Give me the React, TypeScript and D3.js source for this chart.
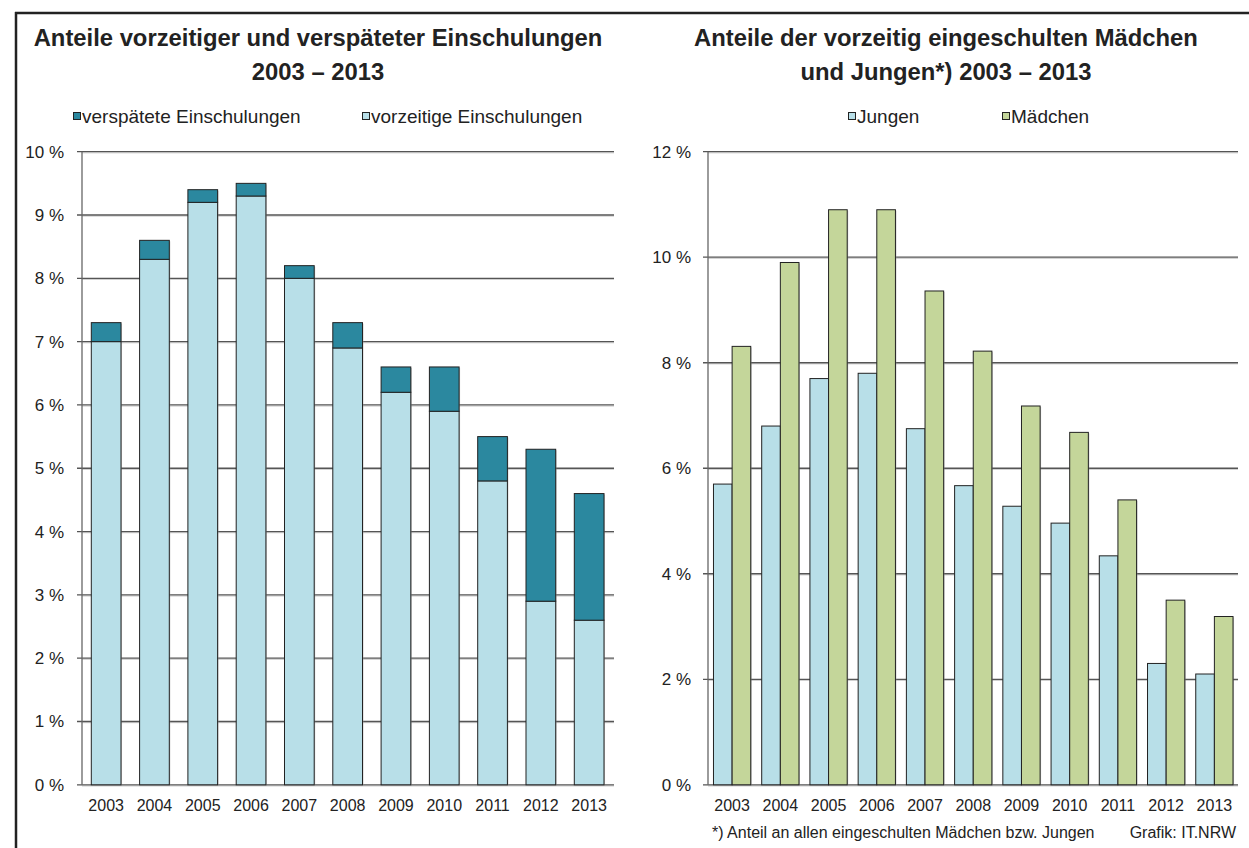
import React from "react";
import * as d3 from "d3";

const years = ["2003","2004","2005","2006","2007","2008","2009","2010","2011","2012","2013"];
const vorzeitig = [7.0, 8.3, 9.2, 9.3, 8.0, 6.9, 6.2, 5.9, 4.8, 2.9, 2.6];
const verspaetet = [0.3, 0.3, 0.2, 0.2, 0.2, 0.4, 0.4, 0.7, 0.7, 2.4, 2.0];
const jungen = [5.7, 6.8, 7.7, 7.8, 6.75, 5.67, 5.28, 4.96, 4.34, 2.3, 2.1];
const maedchen = [8.31, 9.9, 10.9, 10.9, 9.36, 8.22, 7.18, 6.68, 5.4, 3.5, 3.19];
const leftTicks = [0,1,2,3,4,5,6,7,8,9,10];
const rightTicks = [0,2,4,6,8,10,12];

const C_LIGHT = "#b8dfe8";
const C_DARK = "#2b889f";
const C_GREEN = "#c4d69a";
const FONT = "'Liberation Sans', Arial, sans-serif";

export default function App() {
  const W = 1249, H = 848;
  const y0 = 784.8;
  const top = 151.7;
  // left chart
  const lx = d3.scaleBand<string>().domain(years).range([82, 613.3]).paddingInner(0.385).paddingOuter(0.1925);
  const ly = d3.scaleLinear().domain([0, 10]).range([y0, top]);
  // right chart
  const rx = d3.scaleBand<string>().domain(years).range([708, 1238.5]).paddingInner(0.227).paddingOuter(0.1135);
  const ry = d3.scaleLinear().domain([0, 12]).range([y0, top]);
  const rsub = d3.scaleBand<string>().domain(["J","M"]).range([0, rx.bandwidth()]);

  const gridColor = "#555";
  const stroke = "#222";
  const txt = "#222";

  return (
    <svg width={W} height={H} style={{ position: "absolute", left: 0, top: 0, fontFamily: FONT }}>
      <rect x={0} y={0} width={W} height={H} fill="#fff" />
      {/* frame */}
      <line x1={15} x2={W} y1={13} y2={13} stroke="#222" strokeWidth={2.5} />
      <line x1={16} x2={16} y1={12} y2={H} stroke="#222" strokeWidth={2.5} />

      {/* LEFT TITLE */}
      <text x={318} y={46} textAnchor="middle" fontSize={23.8} fontWeight="bold" fill={txt}>Anteile vorzeitiger und verspäteter Einschulungen</text>
      <text x={318} y={80} textAnchor="middle" fontSize={23.8} fontWeight="bold" fill={txt}>2003 – 2013</text>
      {/* left legend */}
      <rect x={73.5} y={112.5} width={7} height={7} fill={C_DARK} stroke={stroke} strokeWidth={1} />
      <text x={82} y={123} fontSize={19} fill={txt}>verspätete Einschulungen</text>
      <rect x={362.5} y={112.5} width={7} height={7} fill={C_LIGHT} stroke={stroke} strokeWidth={1} />
      <text x={371} y={123} fontSize={19} fill={txt}>vorzeitige Einschulungen</text>

      {/* left grid */}
      {leftTicks.map(t => (
        <g key={"lg"+t}>
          <line x1={82} x2={614} y1={ly(t)+1.2} y2={ly(t)+1.2} stroke="#d0d0d0" strokeWidth={1} />
          <line x1={77} x2={614} y1={ly(t)} y2={ly(t)} stroke={gridColor} strokeWidth={1.3} />
          <text x={64} y={ly(t)+6} textAnchor="end" fontSize={17} fill={txt}>{t} %</text>
        </g>
      ))}
      <line x1={82} x2={82} y1={top} y2={y0} stroke="#666" strokeWidth={1.3} />
      {years.map((yr, i) => {
        const x = lx(yr)!;
        const w = lx.bandwidth();
        const yv = ly(vorzeitig[i]);
        const yt = ly(vorzeitig[i] + verspaetet[i]);
        return (
          <g key={"lb"+yr}>
            <rect x={x+1} y={yt+1} width={w} height={y0-yt-1} fill="#999" opacity={0.5} />
            <rect x={x} y={yv} width={w} height={y0-yv} fill={C_LIGHT} stroke={stroke} strokeWidth={1} />
            <rect x={x} y={yt} width={w} height={yv-yt} fill={C_DARK} stroke={stroke} strokeWidth={1} />
            <text x={x+w/2} y={811} textAnchor="middle" fontSize={16} fill={txt}>{yr}</text>
          </g>
        );
      })}

      {/* RIGHT TITLE */}
      <text x={946} y={46} textAnchor="middle" fontSize={23.8} fontWeight="bold" fill={txt}>Anteile der vorzeitig eingeschulten Mädchen</text>
      <text x={946} y={80} textAnchor="middle" fontSize={23.8} fontWeight="bold" fill={txt}>und Jungen*) 2003 – 2013</text>
      <rect x={848.5} y={112.5} width={7} height={7} fill={C_LIGHT} stroke={stroke} strokeWidth={1} />
      <text x={857} y={123} fontSize={19} fill={txt}>Jungen</text>
      <rect x={1002.5} y={112.5} width={7} height={7} fill={C_GREEN} stroke={stroke} strokeWidth={1} />
      <text x={1011} y={123} fontSize={19} fill={txt}>Mädchen</text>

      {rightTicks.map(t => (
        <g key={"rg"+t}>
          <line x1={708} x2={1238} y1={ry(t)+1.2} y2={ry(t)+1.2} stroke="#d0d0d0" strokeWidth={1} />
          <line x1={703} x2={1238} y1={ry(t)} y2={ry(t)} stroke={gridColor} strokeWidth={1.3} />
          <text x={691} y={ry(t)+6} textAnchor="end" fontSize={17} fill={txt}>{t} %</text>
        </g>
      ))}
      <line x1={708} x2={708} y1={top} y2={y0} stroke="#666" strokeWidth={1.3} />
      {years.map((yr, i) => {
        const x = rx(yr)!;
        const bw = rsub.bandwidth();
        const yj = ry(jungen[i]);
        const ym = ry(maedchen[i]);
        return (
          <g key={"rb"+yr}>
            <rect x={x+rsub("J")!+1} y={yj+1} width={bw} height={y0-yj-1} fill="#999" opacity={0.5} />
            <rect x={x+rsub("M")!+1} y={ym+1} width={bw} height={y0-ym-1} fill="#999" opacity={0.5} />
            <rect x={x+rsub("J")!} y={yj} width={bw} height={y0-yj} fill={C_LIGHT} stroke={stroke} strokeWidth={1} />
            <rect x={x+rsub("M")!} y={ym} width={bw} height={y0-ym} fill={C_GREEN} stroke={stroke} strokeWidth={1} />
            <text x={x+rx.bandwidth()/2} y={811} textAnchor="middle" fontSize={16} fill={txt}>{yr}</text>
          </g>
        );
      })}

      <text x={712} y={838} fontSize={16} fill={txt}>*) Anteil an allen eingeschulten Mädchen bzw. Jungen</text>
      <text x={1236} y={838} textAnchor="end" fontSize={16} fill={txt}>Grafik: IT.NRW</text>
    </svg>
  );
}
